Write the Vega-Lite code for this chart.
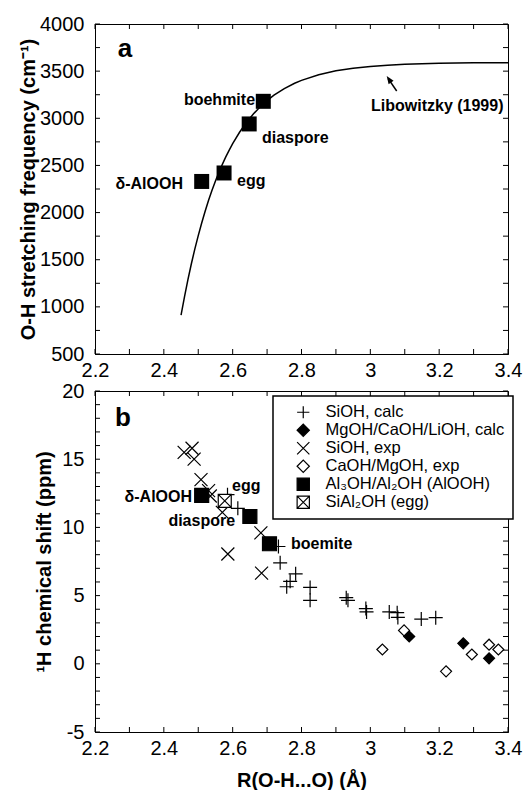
{
  "$schema": "https://vega.github.io/schema/vega-lite/v6.json",
  "background": "white",
  "padding": {"left": 18, "top": 13, "right": 5, "bottom": 5},
  "bounds": "flush",
  "spacing": 37,
  "config": {
    "font": "Liberation Sans",
    "view": {"stroke": "black", "strokeWidth": 1},
    "axis": {
      "grid": false,
      "ticks": false,
      "domainColor": "black",
      "labelColor": "black",
      "titleColor": "black",
      "labelFont": "Liberation Sans",
      "titleFont": "Liberation Sans",
      "labelFontSize": 20,
      "titleFontSize": 20,
      "titleFontWeight": "bold",
      "domainWidth": 1,
      "labelOverlap": false,
      "labelFlush": false
    },
    "legend": {
      "orient": "none", "legendX": 178, "legendY": 372, "title": null, "padding": 8,
      "strokeColor": "black", "strokeWidth": 1.5, "fillColor": "white", "labelFontSize": 16.5, "labelFont": "Liberation Sans",
      "labelColor": "black", "symbolSize": 150, "symbolStrokeWidth": 1.2,
      "rowPadding": 0, "symbolOffset": 14, "labelOffset": 14, "labelLimit": 300
    }
  },
  "datasets": {
    "xt": [{"t": 2.2}, {"t": 2.3}, {"t": 2.4}, {"t": 2.5}, {"t": 2.6}, {"t": 2.7}, {"t": 2.8}, {"t": 2.9}, {"t": 3.0}, {"t": 3.1}, {"t": 3.2}, {"t": 3.3}, {"t": 3.4}],
    "yta": [{"t": 500}, {"t": 750}, {"t": 1000}, {"t": 1250}, {"t": 1500}, {"t": 1750}, {"t": 2000}, {"t": 2250}, {"t": 2500}, {"t": 2750}, {"t": 3000}, {"t": 3250}, {"t": 3500}, {"t": 3750}, {"t": 4000}],
    "ytb": [{"t": -5}, {"t": -4}, {"t": -3}, {"t": -2}, {"t": -1}, {"t": 0}, {"t": 1}, {"t": 2}, {"t": 3}, {"t": 4}, {"t": 5}, {"t": 6}, {"t": 7}, {"t": 8}, {"t": 9}, {"t": 10}, {"t": 11}, {"t": 12}, {"t": 13}, {"t": 14}, {"t": 15}, {"t": 16}, {"t": 17}, {"t": 18}, {"t": 19}, {"t": 20}],
    "pts": [
      {"d": 2.585, "v": 12.4, "type": "SiOH, calc"},
      {"d": 2.615, "v": 11.4, "type": "SiOH, calc"},
      {"d": 2.733, "v": 8.6, "type": "SiOH, calc"},
      {"d": 2.738, "v": 7.4, "type": "SiOH, calc"},
      {"d": 2.757, "v": 5.65, "type": "SiOH, calc"},
      {"d": 2.767, "v": 6.05, "type": "SiOH, calc"},
      {"d": 2.783, "v": 6.6, "type": "SiOH, calc"},
      {"d": 2.825, "v": 5.6, "type": "SiOH, calc"},
      {"d": 2.825, "v": 4.65, "type": "SiOH, calc"},
      {"d": 2.93, "v": 4.85, "type": "SiOH, calc"},
      {"d": 2.935, "v": 4.65, "type": "SiOH, calc"},
      {"d": 2.987, "v": 4.05, "type": "SiOH, calc"},
      {"d": 2.989, "v": 3.8, "type": "SiOH, calc"},
      {"d": 3.055, "v": 3.8, "type": "SiOH, calc"},
      {"d": 3.078, "v": 3.75, "type": "SiOH, calc"},
      {"d": 3.08, "v": 3.4, "type": "SiOH, calc"},
      {"d": 3.148, "v": 3.28, "type": "SiOH, calc"},
      {"d": 3.19, "v": 3.38, "type": "SiOH, calc"},
      {"d": 3.113, "v": 2.0, "type": "MgOH/CaOH/LiOH, calc"},
      {"d": 3.27, "v": 1.5, "type": "MgOH/CaOH/LiOH, calc"},
      {"d": 3.345, "v": 0.4, "type": "MgOH/CaOH/LiOH, calc"},
      {"d": 2.459, "v": 15.5, "type": "SiOH, exp"},
      {"d": 2.482, "v": 15.8, "type": "SiOH, exp"},
      {"d": 2.488, "v": 15.0, "type": "SiOH, exp"},
      {"d": 2.508, "v": 13.5, "type": "SiOH, exp"},
      {"d": 2.53, "v": 12.7, "type": "SiOH, exp"},
      {"d": 2.535, "v": 12.3, "type": "SiOH, exp"},
      {"d": 2.57, "v": 11.1, "type": "SiOH, exp"},
      {"d": 2.586, "v": 8.05, "type": "SiOH, exp"},
      {"d": 2.682, "v": 9.6, "type": "SiOH, exp"},
      {"d": 2.684, "v": 6.65, "type": "SiOH, exp"},
      {"d": 3.035, "v": 1.05, "type": "CaOH/MgOH, exp"},
      {"d": 3.098, "v": 2.45, "type": "CaOH/MgOH, exp"},
      {"d": 3.22, "v": -0.55, "type": "CaOH/MgOH, exp"},
      {"d": 3.295, "v": 0.68, "type": "CaOH/MgOH, exp"},
      {"d": 3.345, "v": 1.4, "type": "CaOH/MgOH, exp"},
      {"d": 3.372, "v": 1.05, "type": "CaOH/MgOH, exp"},
      {"d": 2.51, "v": 12.35, "type": "Al₃OH/Al₂OH (AlOOH)"},
      {"d": 2.65, "v": 10.8, "type": "Al₃OH/Al₂OH (AlOOH)"},
      {"d": 2.707, "v": 8.8, "type": "Al₃OH/Al₂OH (AlOOH)"},
      {"d": 2.577, "v": 11.95, "type": "SiAl₂OH (egg)"}
    ]
  },
  "vconcat": [
    {
      "width": 413,
      "height": 330,
      "layer": [
        {
          "data": {"name": "xt"},
          "mark": {"type": "tick", "orient": "vertical", "size": 5, "thickness": 1, "color": "black", "opacity": 1, "yOffset": -2.5},
          "encoding": {
            "x": {"field": "t", "type": "quantitative", "scale": {"domain": [2.2, 3.4], "nice": false, "zero": false},
                  "axis": {"orient": "bottom", "title": null, "labelPadding": 6,
                           "values": [2.2, 2.4, 2.6, 2.8, 3.0, 3.2, 3.4],
                           "labelExpr": "'' + datum.value"}},
            "y": {"datum": 500, "type": "quantitative", "scale": {"domain": [500, 4000], "nice": false, "zero": false},
                  "axis": {"orient": "left", "title": "O-H stretching frequency (cm⁻¹)", "labelPadding": 11, "titlePadding": 1,
                           "values": [500, 1000, 1500, 2000, 2500, 3000, 3500, 4000],
                           "labelExpr": "'' + datum.value"}}
          }
        },
        {
          "data": {"name": "xt"},
          "mark": {"type": "tick", "orient": "vertical", "size": 5, "thickness": 1, "color": "black", "opacity": 1, "yOffset": 2.5},
          "encoding": {
            "x": {"field": "t", "type": "quantitative"},
            "y": {"datum": 4000, "type": "quantitative"}
          }
        },
        {
          "data": {"name": "yta"},
          "mark": {"type": "tick", "orient": "horizontal", "size": 5, "thickness": 1, "color": "black", "opacity": 1, "xOffset": 2.5},
          "encoding": {
            "x": {"datum": 2.2, "type": "quantitative"},
            "y": {"field": "t", "type": "quantitative"}
          }
        },
        {
          "data": {"name": "yta"},
          "mark": {"type": "tick", "orient": "horizontal", "size": 5, "thickness": 1, "color": "black", "opacity": 1, "xOffset": -2.5},
          "encoding": {
            "x": {"datum": 3.4, "type": "quantitative"},
            "y": {"field": "t", "type": "quantitative"}
          }
        },
        {
          "data": {"values": [
            {"d": 2.45, "nu": 912}, {"d": 2.46, "nu": 1107}, {"d": 2.47, "nu": 1288}, {"d": 2.48, "nu": 1457},
            {"d": 2.49, "nu": 1613}, {"d": 2.50, "nu": 1756}, {"d": 2.51, "nu": 1890}, {"d": 2.52, "nu": 2014},
            {"d": 2.53, "nu": 2130}, {"d": 2.54, "nu": 2236}, {"d": 2.55, "nu": 2335}, {"d": 2.56, "nu": 2427},
            {"d": 2.57, "nu": 2511}, {"d": 2.58, "nu": 2590}, {"d": 2.59, "nu": 2663}, {"d": 2.60, "nu": 2731},
            {"d": 2.62, "nu": 2852}, {"d": 2.64, "nu": 2956}, {"d": 2.66, "nu": 3045}, {"d": 2.68, "nu": 3122},
            {"d": 2.70, "nu": 3188}, {"d": 2.72, "nu": 3245}, {"d": 2.75, "nu": 3315}, {"d": 2.78, "nu": 3372},
            {"d": 2.80, "nu": 3402}, {"d": 2.85, "nu": 3462}, {"d": 2.90, "nu": 3503}, {"d": 2.95, "nu": 3531},
            {"d": 3.00, "nu": 3550}, {"d": 3.05, "nu": 3563}, {"d": 3.10, "nu": 3572}, {"d": 3.20, "nu": 3583},
            {"d": 3.30, "nu": 3588}, {"d": 3.40, "nu": 3590}
          ]},
          "mark": {"type": "line", "color": "black", "strokeWidth": 1.5},
          "encoding": {
            "x": {"field": "d", "type": "quantitative"},
            "y": {"field": "nu", "type": "quantitative"}
          }
        },
        {
          "data": {"values": [
            {"d": 2.51, "nu": 2330, "name": "δ-AlOOH"},
            {"d": 2.575, "nu": 2420, "name": "egg"},
            {"d": 2.648, "nu": 2940, "name": "diaspore"},
            {"d": 2.689, "nu": 3180, "name": "boehmite"}
          ]},
          "mark": {"type": "point", "shape": "square", "filled": true, "color": "black", "size": 225, "opacity": 1},
          "encoding": {
            "x": {"field": "d", "type": "quantitative"},
            "y": {"field": "nu", "type": "quantitative"}
          }
        },
        {
          "data": {"values": [
            {"d": 2.685, "nu": 2791, "label": "diaspore"},
            {"d": 2.6126, "nu": 2335, "label": "egg"},
            {"d": 3.002, "nu": 3130, "label": "Libowitzky (1999)"}
          ]},
          "mark": {"type": "text", "align": "left", "baseline": "middle", "fontWeight": "bold", "fontSize": 16, "color": "black"},
          "encoding": {
            "x": {"field": "d", "type": "quantitative"},
            "y": {"field": "nu", "type": "quantitative"},
            "text": {"field": "label"}
          }
        },
        {
          "data": {"values": [
            {"d": 2.665, "nu": 3194, "label": "boehmite"},
            {"d": 2.4557, "nu": 2303, "label": "δ-AlOOH"}
          ]},
          "mark": {"type": "text", "align": "right", "baseline": "middle", "fontWeight": "bold", "fontSize": 16, "color": "black"},
          "encoding": {
            "x": {"field": "d", "type": "quantitative"},
            "y": {"field": "nu", "type": "quantitative"},
            "text": {"field": "label"}
          }
        },
        {
          "data": {"values": [{"d": 2.287, "nu": 3735, "label": "a"}]},
          "mark": {"type": "text", "align": "center", "baseline": "middle", "fontWeight": "bold", "fontSize": 26, "color": "black"},
          "encoding": {
            "x": {"field": "d", "type": "quantitative"},
            "y": {"field": "nu", "type": "quantitative"},
            "text": {"field": "label"}
          }
        },
        {
          "data": {"values": [{"d": 3.052, "nu": 3420, "d2": 3.0766, "nu2": 3289}]},
          "mark": {"type": "rule", "color": "black", "strokeWidth": 1.5},
          "encoding": {
            "x": {"field": "d", "type": "quantitative"},
            "y": {"field": "nu", "type": "quantitative"},
            "x2": {"field": "d2"},
            "y2": {"field": "nu2"}
          }
        },
        {
          "data": {"values": [{"d": 3.0476, "nu": 3448}]},
          "mark": {"type": "point", "shape": "M0,0L-1,2.6L1,2.6Z", "size": 36, "angle": 326, "filled": true, "color": "black", "opacity": 1},
          "encoding": {
            "x": {"field": "d", "type": "quantitative"},
            "y": {"field": "nu", "type": "quantitative"}
          }
        }
      ]
    },
    {
      "width": 413,
      "height": 341,
      "layer": [
        {
          "data": {"name": "xt"},
          "mark": {"type": "tick", "orient": "vertical", "size": 5, "thickness": 1, "color": "black", "opacity": 1, "yOffset": -2.5},
          "encoding": {
            "x": {"field": "t", "type": "quantitative", "scale": {"domain": [2.2, 3.4], "nice": false, "zero": false},
                  "axis": {"orient": "bottom", "title": "R(O-H...O) (Å)", "labelPadding": 6, "titlePadding": 12,
                           "values": [2.2, 2.4, 2.6, 2.8, 3.0, 3.2, 3.4],
                           "labelExpr": "'' + datum.value"}},
            "y": {"datum": -5, "type": "quantitative", "scale": {"domain": [-5, 20], "nice": false, "zero": false},
                  "axis": {"orient": "left", "title": "¹H chemical shift (ppm)", "labelPadding": 11, "titlePadding": 7,
                           "values": [-5, 0, 5, 10, 15, 20],
                           "labelExpr": "'' + datum.value"}}
          }
        },
        {
          "data": {"name": "xt"},
          "mark": {"type": "tick", "orient": "vertical", "size": 5, "thickness": 1, "color": "black", "opacity": 1, "yOffset": 2.5},
          "encoding": {
            "x": {"field": "t", "type": "quantitative"},
            "y": {"datum": 20, "type": "quantitative"}
          }
        },
        {
          "data": {"name": "ytb"},
          "mark": {"type": "tick", "orient": "horizontal", "size": 5, "thickness": 1, "color": "black", "opacity": 1, "xOffset": 2.5},
          "encoding": {
            "x": {"datum": 2.2, "type": "quantitative"},
            "y": {"field": "t", "type": "quantitative"}
          }
        },
        {
          "data": {"name": "ytb"},
          "mark": {"type": "tick", "orient": "horizontal", "size": 5, "thickness": 1, "color": "black", "opacity": 1, "xOffset": -2.5},
          "encoding": {
            "x": {"datum": 3.4, "type": "quantitative"},
            "y": {"field": "t", "type": "quantitative"}
          }
        },
        {
          "data": {"name": "pts"},
          "transform": [{"filter": "datum.type == 'SiOH, calc' || datum.type == 'Al₃OH/Al₂OH (AlOOH)'"}],
          "mark": {"type": "point", "strokeWidth": 1.2, "opacity": 1, "size": 196},
          "encoding": {
            "x": {"field": "d", "type": "quantitative"},
            "y": {"field": "v", "type": "quantitative"},
            "shape": {"field": "type", "type": "nominal",
                      "scale": {"domain": ["SiOH, calc", "MgOH/CaOH/LiOH, calc", "SiOH, exp", "CaOH/MgOH, exp", "Al₃OH/Al₂OH (AlOOH)", "SiAl₂OH (egg)"],
                                "range": ["M-1,0H1M0,-1V1", "diamond", "M-1,-1L1,1M-1,1L1,-1", "diamond", "square", "M-1,-1H1V1H-1ZM-1,-1L1,1M-1,1L1,-1"]}},
            "fill": {"field": "type", "type": "nominal",
                     "scale": {"domain": ["SiOH, calc", "MgOH/CaOH/LiOH, calc", "SiOH, exp", "CaOH/MgOH, exp", "Al₃OH/Al₂OH (AlOOH)", "SiAl₂OH (egg)"],
                               "range": ["transparent", "black", "transparent", "white", "black", "white"]}},
            "stroke": {"field": "type", "type": "nominal",
                       "scale": {"domain": ["SiOH, calc", "MgOH/CaOH/LiOH, calc", "SiOH, exp", "CaOH/MgOH, exp", "Al₃OH/Al₂OH (AlOOH)", "SiAl₂OH (egg)"],
                                 "range": ["black", "black", "black", "black", "black", "black"]}}
          }
        },
        {
          "data": {"name": "pts"},
          "transform": [{"filter": "datum.type == 'SiOH, exp' || datum.type == 'SiAl₂OH (egg)'"}],
          "mark": {"type": "point", "strokeWidth": 1.2, "opacity": 1, "size": 169},
          "encoding": {
            "x": {"field": "d", "type": "quantitative"},
            "y": {"field": "v", "type": "quantitative"},
            "shape": {"field": "type", "type": "nominal"},
            "fill": {"field": "type", "type": "nominal"},
            "stroke": {"field": "type", "type": "nominal"}
          }
        },
        {
          "data": {"name": "pts"},
          "transform": [{"filter": "datum.type == 'MgOH/CaOH/LiOH, calc' || datum.type == 'CaOH/MgOH, exp'"}],
          "mark": {"type": "point", "strokeWidth": 1.2, "opacity": 1, "size": 121},
          "encoding": {
            "x": {"field": "d", "type": "quantitative"},
            "y": {"field": "v", "type": "quantitative"},
            "shape": {"field": "type", "type": "nominal"},
            "fill": {"field": "type", "type": "nominal"},
            "stroke": {"field": "type", "type": "nominal"}
          }
        },
        {
          "data": {"values": [
            {"d": 2.598, "v": 13.04, "label": "egg"},
            {"d": 2.7695, "v": 8.78, "label": "boemite"}
          ]},
          "mark": {"type": "text", "align": "left", "baseline": "middle", "fontWeight": "bold", "fontSize": 16, "color": "black"},
          "encoding": {
            "x": {"field": "d", "type": "quantitative"},
            "y": {"field": "v", "type": "quantitative"},
            "text": {"field": "label"}
          }
        },
        {
          "data": {"values": [
            {"d": 2.482, "v": 12.23, "label": "δ-AlOOH"},
            {"d": 2.607, "v": 10.47, "label": "diaspore"}
          ]},
          "mark": {"type": "text", "align": "right", "baseline": "middle", "fontWeight": "bold", "fontSize": 16, "color": "black"},
          "encoding": {
            "x": {"field": "d", "type": "quantitative"},
            "y": {"field": "v", "type": "quantitative"},
            "text": {"field": "label"}
          }
        },
        {
          "data": {"values": [{"d": 2.281, "v": 18.0, "label": "b"}]},
          "mark": {"type": "text", "align": "center", "baseline": "middle", "fontWeight": "bold", "fontSize": 26, "color": "black"},
          "encoding": {
            "x": {"field": "d", "type": "quantitative"},
            "y": {"field": "v", "type": "quantitative"},
            "text": {"field": "label"}
          }
        }
      ]
    }
  ]
}
